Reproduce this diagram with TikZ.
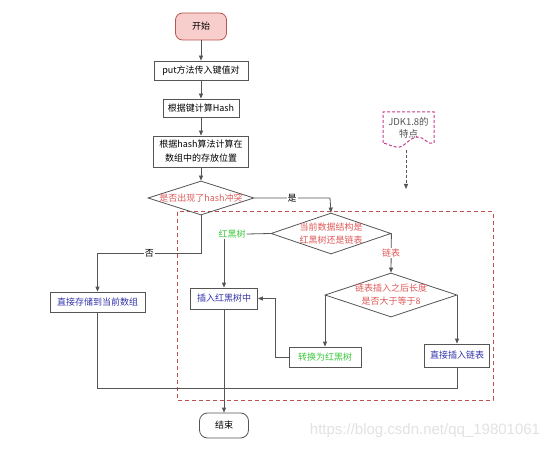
\documentclass[tikz,border=0pt]{standalone}
\usepackage{fontspec}
\newfontfamily\cjk{Noto Sans CJK SC}
\newfontfamily\wmfont{Liberation Sans}
\usetikzlibrary{shapes.geometric,arrows.meta,calc}
\definecolor{linegray}{HTML}{555555}
\definecolor{pinkfill}{HTML}{F8CECC}
\definecolor{pinkdraw}{HTML}{B85450}
\definecolor{redtxt}{HTML}{E05A5A}
\definecolor{greentxt}{HTML}{3CC83C}
\definecolor{bluetxt}{HTML}{3333AA}
\definecolor{framered}{HTML}{C0504D}
\definecolor{magdash}{HTML}{C83C8C}
\definecolor{wmgray}{HTML}{E2E2E2}
\begin{document}
\begin{tikzpicture}[x=1pt,y=-1pt,
  txt/.style={font=\cjk\fontsize{9}{13}\selectfont, align=center},
  box/.style={txt, draw=linegray, line width=0.8pt, rectangle, inner sep=0pt},
  dia/.style={draw=linegray, line width=0.8pt, diamond, inner sep=0pt},
  ln/.style={draw=linegray, line width=0.8pt},
  arr/.style={ln, -{Triangle[length=5pt,width=4pt]}},
  lbl/.style={txt, fill=white, inner sep=1pt},
]
\useasboundingbox (0,0) rectangle (554,449);
\fill[white] (0,0) rectangle (554,449);

% watermark
\node[font=\wmfont\fontsize{15}{15}\selectfont, text=wmgray, anchor=center] (wm) at (425,431) {https://blog.csdn.net/qq\_19801061};

% dashed frame
\draw[framered, line width=1pt, dash pattern=on 4pt off 3pt] (177,212) rectangle (493,400);

% nodes
\node[box, draw=pinkdraw, fill=pinkfill, rounded corners=7pt, minimum width=51, minimum height=27] (start) at (201,26.5) {开始};
\node[box, minimum width=94, minimum height=19] (put) at (201,70.5) {put方法传入键值对};
\node[box, minimum width=76, minimum height=18] (hash) at (201,108) {根据键计算Hash};
\node[box, minimum width=95, minimum height=31, font=\cjk\fontsize{9}{14}\selectfont] (pos) at (201,151.5) {根据hash算法计算在\\数组中的存放位置};
\node[dia, minimum width=106, minimum height=34] (d1) at (201,198) {};
\node[txt, text=redtxt] (d1t) at (d1.center) {是否出现了hash冲突};

\node[dia, minimum width=120, minimum height=41] (d2) at (331,233.5) {};
\node[txt, text=redtxt] (d2t) at (d2.center) {当前数据结构是\\红黑树还是链表};

\node[dia, minimum width=132, minimum height=44] (d3) at (391,295) {};
\node[txt, text=redtxt] (d3t) at (d3.center) {链表插入之后长度\\是否大于等于8};

\node[box, text=bluetxt, minimum width=67, minimum height=21] (ins) at (224,298.5) {插入红黑树中};
\node[box, text=greentxt, minimum width=72, minimum height=20] (conv) at (325,357) {转换为红黑树};
\node[box, text=bluetxt, minimum width=65, minimum height=23] (dl) at (457,355.5) {直接插入链表};
\node[box, text=bluetxt, minimum width=95, minimum height=20] (arrn) at (97.5,302) {直接存储到当前数组};
\node[box, rounded corners=8pt, minimum width=49, minimum height=25] (end) at (224,425.5) {结束};

\node[txt, text=greentxt, inner sep=1pt] (rbl) at (232,234) {红黑树};

% JDK document shape
\node[txt, text=linegray, minimum width=51, minimum height=34, inner sep=0pt, font=\cjk\fontsize{9.5}{12}\selectfont] (jdk) at (408.5,128) {JDK1.8的\\特点};
\draw[magdash, line width=1pt, dash pattern=on 3pt off 2pt]
  (383,143) -- (383,112) -- (434,112) -- (434,143)
  .. controls (428,146) and (424,136) .. (417,137)
  .. controls (408,138) and (404,149) .. (396,147)
  .. controls (390,146) and (386,143) .. (383,143);
\coordinate (jdkend) at (406,189);
\draw[ln, dash pattern=on 3pt off 2pt, -{Triangle[length=5pt,width=4pt]}] (406,150) -- (jdkend);

% connectors
\draw[arr] (start) -- (put);
\draw[arr] (put) -- (hash);
\draw[arr] (hash) -- (pos);
\draw[arr] (pos) -- (d1);
\coordinate (yes) at (330,198);
\draw[arr] (d1.east) -- node[lbl]{是} (yes) -- (d2.north);
\coordinate (nob) at (201,253);
\draw[arr] (d1.south) -- (nob) -- node[lbl]{否} (nob -| arrn.north) -- (arrn.north);
\draw[ln] (d2.west) -- (rbl.east);
\draw[arr] (rbl.south -| ins.north) -- (ins.north);
\draw[arr] (d2.east) -- node[lbl, text=redtxt]{链表} (d3.north);
\draw[arr] (d3.west) -| (conv.north);
\draw[arr] (d3.east) -| (dl.north);
\coordinate (bend) at (275,357);
\draw[arr] (conv.west) -- (bend) |- (ins.east);
\draw[arr] (ins.south) -- (end.north);
\coordinate (join) at (224,388);
\draw[ln] (arrn.south) |- (join);
\draw[ln] (dl.south) |- (join);
\end{tikzpicture}
\end{document}
